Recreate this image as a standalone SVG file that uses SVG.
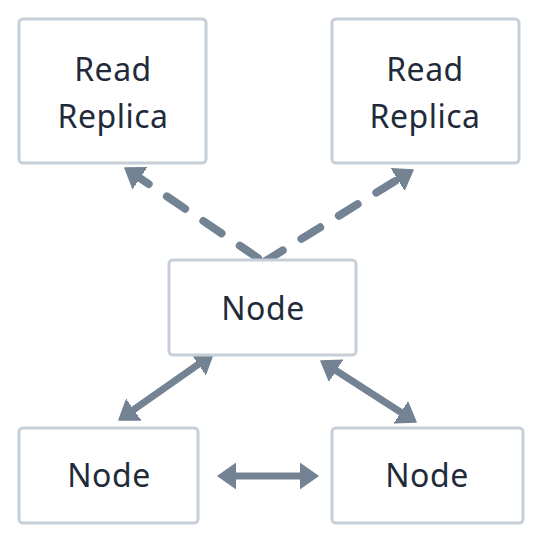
<svg xmlns="http://www.w3.org/2000/svg" width="544" height="544" viewBox="0 0 544 544">
<style>
.box{fill:#ffffff;stroke:#c6cfd8;stroke-width:3}
.lbl{font-family:"Noto Sans","DejaVu Sans",sans-serif;font-size:32px;fill:#1f2b3a;text-anchor:middle;letter-spacing:0.5px}
.dash{stroke:#738394;stroke-width:8;stroke-linecap:round;stroke-dasharray:22 22;fill:none}
.bi{stroke:#738394;stroke-width:7;fill:none}
</style>
<defs>
<marker id="ah" markerUnits="userSpaceOnUse" markerWidth="20" markerHeight="26" viewBox="0 -13 20 26" refX="10" refY="0" orient="auto-start-reverse">
<path d="M0,-12.5 L18,0 L0,12.5 Z" fill="#738394" stroke="#738394" stroke-width="1.5" stroke-linejoin="round"/>
</marker>
</defs>
<rect width="544" height="544" fill="#ffffff"/>
<g id="connectors">
<line class="dash" x1="258" y1="258" x2="131.6" y2="172.5" marker-end="url(#ah)"/>
<line class="dash" x1="264" y1="262" x2="406.2" y2="174.2" marker-end="url(#ah)"/>
<line class="bi" x1="206.5" y1="358.6" x2="125.5" y2="415.4" marker-start="url(#ah)" marker-end="url(#ah)"/>
<line class="bi" x1="327.7" y1="365.3" x2="409.3" y2="417.7" marker-start="url(#ah)" marker-end="url(#ah)"/>
<line class="bi" x1="226" y1="476" x2="310" y2="476" marker-start="url(#ah)" marker-end="url(#ah)"/>
</g>
<g id="replica-left">
<rect class="box" x="19" y="19" width="187" height="144" rx="4"/>
<text class="lbl" x="113" y="81">Read</text>
<text class="lbl" x="113" y="128">Replica</text>
</g>
<g id="replica-right">
<rect class="box" x="332" y="19" width="187" height="144" rx="4"/>
<text class="lbl" x="425" y="81">Read</text>
<text class="lbl" x="425" y="128">Replica</text>
</g>
<g id="node-center">
<rect class="box" x="169" y="260" width="187" height="95" rx="4"/>
<text class="lbl" x="263" y="320">Node</text>
</g>
<g id="node-left">
<rect class="box" x="19" y="428" width="179" height="95" rx="4"/>
<text class="lbl" x="109" y="487">Node</text>
</g>
<g id="node-right">
<rect class="box" x="332" y="428" width="191" height="95" rx="4"/>
<text class="lbl" x="427" y="487">Node</text>
</g>
</svg>
